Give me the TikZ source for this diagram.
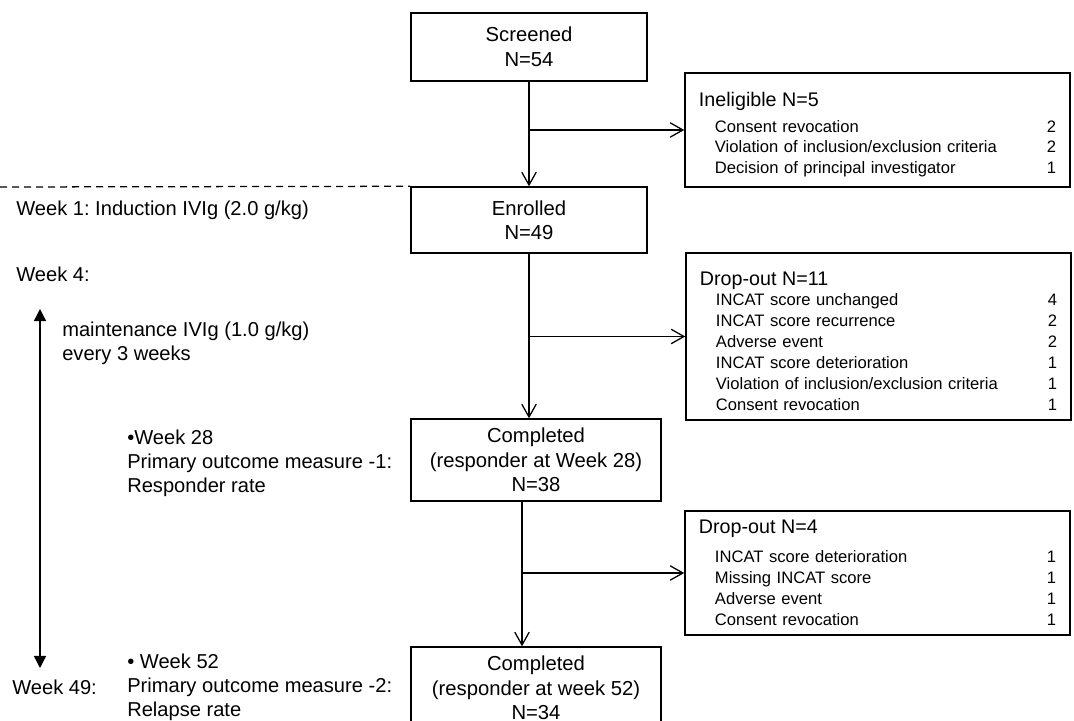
\documentclass[tikz,border=0pt]{standalone}
\usepackage{fontspec}
\setmainfont{Liberation Sans}
\usetikzlibrary{arrows.meta}
\frenchspacing
\newcommand{\reason}[2]{\hspace*{0.4cm}\makebox[8.1cm][l]{#1}\makebox[0.425cm][r]{#2}}
\newcommand{\sidehead}[2]{{\fontsize{14}{15}\selectfont\rule{0pt}{#1}#2}}

\begin{document}
\begin{tikzpicture}[
    x=0.025cm, y=-0.025cm,
    block/.style={rectangle, draw=black, line width=1pt, minimum width=5.9cm, minimum height=1.7cm, align=center, inner sep=0pt, font=\fontsize{14.4}{17.4}\selectfont},
    wide/.style={block, minimum width=6.25cm, minimum height=2.05cm},
    sidebox/.style={rectangle, draw=black, line width=1pt, minimum width=9.625cm, text width=8.925cm, align=left, inner sep=0pt, font=\fontsize{11.8}{14.9}\selectfont},
    note/.style={anchor=west, inner sep=0pt, align=left, font=\fontsize{14.3}{17}\selectfont},
    arrow/.style={-{Straight Barb[length=3.2mm,width=3.6mm]}, line width=0.9pt}
]
\useasboundingbox (0,0) rectangle (1074,721);

% main column
\node[block] (screened) at (529,47) {Screened\\N=54};
\node[block, minimum height=1.65cm] (enrolled) at (529,220) {Enrolled\\N=49};
\node[wide] (comp1) at (536,460) {Completed\\(responder at Week 28)\\N=38};
\node[wide] (comp2) at (536,688) {Completed\\(responder at week 52)\\N=34};

% exclusions
\node[sidebox, minimum height=2.85cm] (inel) at (877.5,130) {\sidehead{17.2pt}{Ineligible N=5}\\[3pt]
\reason{Consent revocation}{2}\\
\reason{Violation of inclusion/exclusion criteria}{2}\\
\reason{Decision of principal investigator}{1}};
\node[sidebox, minimum height=4.175cm] (drop1) at (878.5,336.5) {\sidehead{16.6pt}{Drop-out N=11}\\[-0.4pt]
\reason{INCAT score unchanged}{4}\\
\reason{INCAT score recurrence}{2}\\
\reason{Adverse event}{2}\\
\reason{INCAT score deterioration}{1}\\
\reason{Violation of inclusion/exclusion criteria}{1}\\
\reason{Consent revocation}{1}};
\node[sidebox, minimum height=3.1cm] (drop2) at (877.5,573) {\sidehead{0pt}{Drop-out N=4}\\[6pt]
\reason{INCAT score deterioration}{1}\\
\reason{Missing INCAT score}{1}\\
\reason{Adverse event}{1}\\
\reason{Consent revocation}{1}};

% schedule notes
\node[note] (wk1) at (16,210) {Week 1: Induction IVIg (2.0 g/kg)};
\node[note] (wk4) at (16,274) {Week 4:};
\node[note] (maint) at (62,343) {maintenance IVIg (1.0 g/kg)\\every 3 weeks};
\node[note] (wk28) at (127,463) {•Week 28\\Primary outcome measure -1:\\Responder rate};
\node[note] (wk52) at (127,687) {• Week 52\\Primary outcome measure -2:\\Relapse rate};
\node[note] (wk49) at (12,687) {Week 49:};

\coordinate (cut) at (0,187);
\coordinate (tltop) at (40,309);
\coordinate (tlbot) at (40,668);

\draw[dashed, dash pattern=on 0.175cm off 0.125cm, line width=0.9pt] (cut) -- (enrolled.north west);
\draw[{Triangle[length=3mm,width=3mm]}-{Triangle[length=3mm,width=3mm]}, line width=0.9pt] (tltop) -- (tlbot);

\draw[arrow] (screened) -- (enrolled);
\draw[arrow] (screened.south |- inel.west) -- (inel.west);
\draw[arrow] (enrolled) -- (enrolled.south |- comp1.north);
\draw[arrow] (enrolled.south |- drop1.west) -- (drop1.west);
\draw[arrow] ([xshift=-0.35cm]comp1.south) -- ([xshift=-0.35cm]comp1.south |- comp2.north);
\draw[arrow] ([xshift=-0.35cm]comp1.south |- drop2.west) -- (drop2.west);
\end{tikzpicture}
\end{document}
